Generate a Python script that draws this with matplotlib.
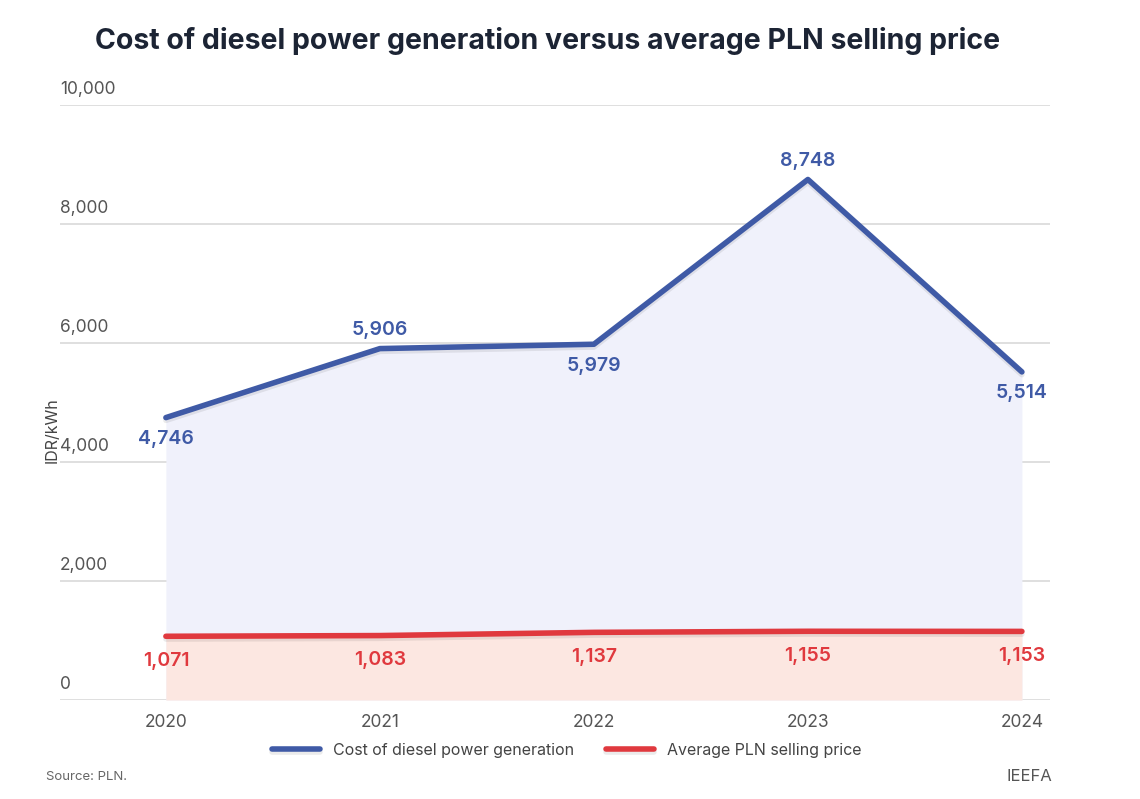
import matplotlib.pyplot as plt
import matplotlib.patheffects as pe
from matplotlib.transforms import blended_transform_factory

plt.rcParams['font.family'] = ['Inter', 'DejaVu Sans']

years = [2020, 2021, 2022, 2023, 2024]
diesel = [4746, 5906, 5979, 8748, 5514]
pln = [1071, 1083, 1137, 1155, 1153]
yticks = [0, 2000, 4000, 6000, 8000, 10000]

# label placement: +1 above the point, -1 below
diesel_pos = [-1, 1, -1, 1, -1]

blue = '#3f5aa6'
red = '#e0393e'

fig = plt.figure(figsize=(11.4, 7.99), dpi=100)
ax = fig.add_axes([0.0526, 0.1239, 0.8684, 0.7447])
ax.set_xlim(2019.505, 2024.131)
ax.set_ylim(0, 10000)

# fills
ax.fill_between(years, diesel, 0, color='#f0f1fb', zorder=1, lw=0)
ax.fill_between(years, pln, 0, color='#fce7e1', zorder=2, lw=0)

shadow = [pe.SimpleLineShadow(offset=(0, -2), shadow_color='#000000', alpha=0.08), pe.Normal()]
ax.plot(years, diesel, color=blue, lw=4, zorder=4, solid_capstyle='round',
        label='Cost of diesel power generation', path_effects=shadow)
ax.plot(years, pln, color=red, lw=4, zorder=4, solid_capstyle='round',
        label='Average PLN selling price', path_effects=shadow)

# grid and y tick labels (above the gridline, left aligned)
ytrans = blended_transform_factory(ax.transAxes, ax.transData)
for t in yticks:
    ax.axhline(t, color='#d9d9d9', lw=1.2, zorder=0.5)
    ax.text(0.0, t + 110, f'{t:,}', transform=ytrans, ha='left', va='bottom',
            fontsize=12.5, color='#555555')

for x, v, p in zip(years, diesel, diesel_pos):
    ax.annotate(f'{v:,}', (x, v), xytext=(0, 7 if p > 0 else -9), textcoords='offset points',
                ha='center', va='bottom' if p > 0 else 'top',
                fontsize=14, fontweight='semibold', color=blue, zorder=5)
for x, v in zip(years, pln):
    ax.annotate(f'{v:,}', (x, v), xytext=(0, -11), textcoords='offset points',
                ha='center', va='top', fontsize=14, fontweight='semibold',
                color=red, zorder=5)

ax.set_xticks(years)
ax.set_xticklabels([str(y) for y in years], fontsize=12.5, color='#555555')
ax.tick_params(axis='x', length=0, pad=10)
ax.set_yticks([])
for s in ax.spines.values():
    s.set_visible(False)

fig.text(0.046, 0.462, 'IDR/kWh', rotation=90, ha='center', va='center',
         fontsize=11.5, color='#444444')

fig.suptitle('Cost of diesel power generation versus average PLN selling price',
             x=0.48, y=0.966, fontsize=20.5, fontweight='bold', color='#1c2434')

ax.legend(loc='upper center', bbox_to_anchor=(0.512, -0.048), ncol=2, frameon=False,
          fontsize=11.5, handlelength=3, columnspacing=2, labelcolor='#444444')

fig.text(0.04, 0.024, 'Source: PLN.', fontsize=9.5, color='#666666', ha='left')
fig.text(0.923, 0.022, 'IEEFA', fontsize=12, color='#555555', ha='right')

fig.savefig('out.png', dpi=100, facecolor='white')
